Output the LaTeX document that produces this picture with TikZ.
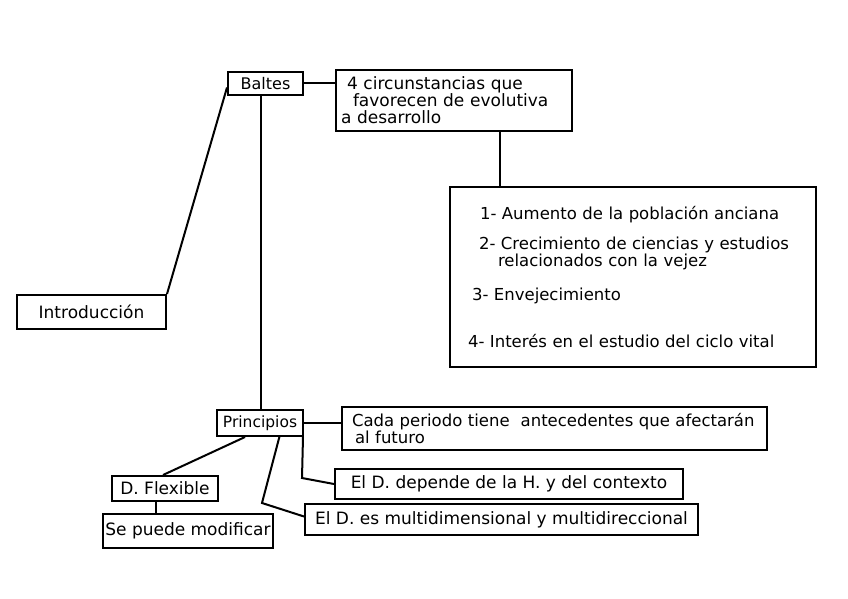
\documentclass[tikz,border=0pt]{standalone}
\usepackage{fontspec}
\setmainfont{DejaVu Sans}
\usetikzlibrary{calc}
\begin{document}
\begin{tikzpicture}[x=1pt,y=-1pt,
  box/.style={draw=black,line width=2pt,rectangle,inner sep=0pt,
    font=\fontsize{17}{15}\selectfont},
  link/.style={draw=black,line width=2pt}]
\useasboundingbox (0,0) rectangle (848,599);
% boxes
\node[box,minimum width=75,minimum height=23,font=\fontsize{16}{16}\selectfont] (baltes) at (265.5,83.5) {Baltes};
\node[box,minimum width=236,minimum height=61,text width=226,align=left,
  font=\fontsize{17}{17}\selectfont] (circ) at (454,100.5)
  {\mbox{\hspace*{6pt}4 circunstancias que}\\\mbox{\hspace*{12pt}favorecen de evolutiva}\\\mbox{a desarrollo}};
\node[box,minimum width=366,minimum height=180,text width=330,align=left,
  font=\fontsize{16.5}{15}\selectfont] (big) at (633,277)
  {\mbox{\hspace*{12pt}1- Aumento de la población anciana}\\[13pt]
   \mbox{\hspace*{11pt}2- Crecimiento de ciencias y estudios}\\[0pt]
   \mbox{\hspace*{30pt}relacionados con la vejez}\\[17pt]
   \mbox{\hspace*{4pt}3- Envejecimiento}\\[29pt]
   \mbox{4- Interés en el estudio del ciclo vital}};
\node[box,minimum width=149,minimum height=34] (intro) at (91.5,312) {Introducción};
\node[box,minimum width=86,minimum height=26,font=\fontsize{15.5}{16}\selectfont] (princ) at (260,423) {Principios};
\node[box,minimum width=425,minimum height=43,text width=405,align=left,
  font=\fontsize{16.5}{14}\selectfont] (cada) at (554.5,428.5)
  {\mbox{Cada periodo tiene\ \ antecedentes que afectarán}\\\mbox{\hspace*{3pt}al futuro}};
\node[box,minimum width=348,minimum height=30] (dep) at (509,484)
  {El D. depende de la H. y del contexto};
\node[box,minimum width=393,minimum height=31] (multi) at (501.5,519.5)
  {El D. es multidimensional y multidireccional};
\node[box,minimum width=106,minimum height=25] (flex) at (165,488.5) {D. Flexible};
\node[box,minimum width=170,minimum height=34] (mod) at (188,531) {Se puede modificar};
% helper coordinates
\coordinate (cx) at (500,0);
\coordinate (vx) at (261,0);
\coordinate (bend1) at (302,478);
\coordinate (bend2) at (262,503);
% connectors
\draw[link] (baltes.east) -- (baltes.east -| circ.west);
\draw[link] (circ.south -| cx) -- (big.north -| cx);
\draw[link] (intro.north east) -- ([yshift=-4pt]baltes.west);
\draw[link] (baltes.south -| vx) -- (princ.north -| vx);
\draw[link] (princ.east) -- (princ.east -| cada.west);
\draw[link] ([xshift=-1pt]princ.south east) -- (bend1) -- (dep.west);
\draw[link] ($(princ.south west)!0.72!(princ.south east)$) -- (bend2) -- ([yshift=3pt]multi.west);
\draw[link] ($(princ.south west)!0.33!(princ.south east)$) -- ([xshift=-2pt]flex.north);
\draw[link] ([xshift=-9pt]flex.south) -- ([xshift=-9pt]flex.south |- mod.north);
\end{tikzpicture}
\end{document}
